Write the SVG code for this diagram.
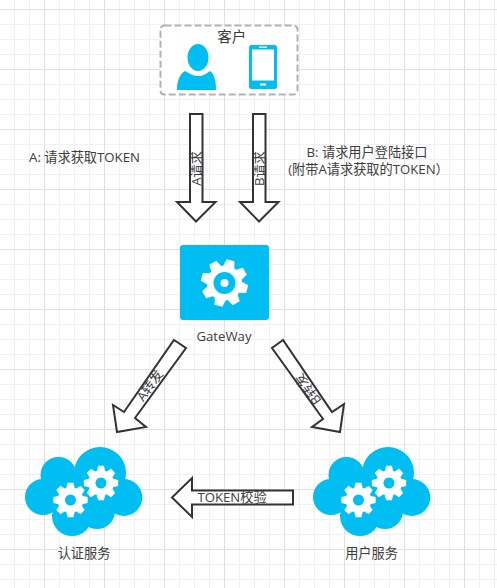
<svg xmlns="http://www.w3.org/2000/svg" width="497" height="588" viewBox="0 0 497 588">
<style>
text{font-family:"Open Sans","Noto Sans CJK SC",sans-serif;font-size:13.2px;fill:#3c3c3c;text-anchor:middle}
.ar{fill:#fff;stroke:#333;stroke-width:2}
.blue{fill:#00bef2}
</style>
<defs>
<pattern id="g1" width="15" height="15" patternUnits="userSpaceOnUse" x="14" y="9"><path d="M15 .5H.5V15" fill="none" stroke="#f0f0f0" stroke-width="1"/></pattern>
<pattern id="g2" width="60" height="60" patternUnits="userSpaceOnUse" x="44" y="9"><path d="M60 .5H.5V60" fill="none" stroke="#e0e0e0" stroke-width="1"/></pattern>
<path id="tooth" d="M-6-15L-4-23.500H4L6-15Z" fill="#fff"/>
<g id="gear"><circle r="17.500" fill="#fff"/>
<use href="#tooth"/><use href="#tooth" transform="rotate(45)"/><use href="#tooth" transform="rotate(90)"/><use href="#tooth" transform="rotate(135)"/><use href="#tooth" transform="rotate(180)"/><use href="#tooth" transform="rotate(225)"/><use href="#tooth" transform="rotate(270)"/><use href="#tooth" transform="rotate(315)"/></g>
<g id="cloud" class="blue"><circle cx="43" cy="497" r="18"/><circle cx="58.500" cy="475" r="18"/><circle cx="100" cy="473" r="26"/><circle cx="123.800" cy="497.500" r="18.500"/><circle cx="72" cy="516" r="20"/><circle cx="97" cy="511" r="18"/><ellipse cx="82" cy="495" rx="35" ry="20"/></g>
</defs>
<rect width="497" height="588" fill="#fff"/>
<rect width="497" height="588" fill="url(#g1)"/>
<rect width="497" height="588" fill="url(#g2)"/>
<g id="connectors">
<path class="ar" d="M190 114H202.500V202H215.500L196 221.500L177 202H190Z"/>
<path class="ar" d="M253 114H265.500V202H278.500L259 221.500L240 202H253Z"/>
<path class="ar" d="M174 340L186 348L135 418L146 427L117 432L113 405L124 412Z"/>
<path class="ar" d="M283 340L272 348L323 419L312 427L340 432L344 404L332 412Z"/>
<path class="ar" d="M293 490.500H192V478L172 497.500L192 517V504.500H293Z"/>
<text transform="translate(201,168.500) rotate(-90)">A请求</text>
<text transform="translate(264,168.500) rotate(-90)">B请求</text>
<text transform="translate(150,385.500) rotate(-54)" dy="4.500">A转发</text>
<text transform="translate(308,389) rotate(-126)" dy="4.500">B转发</text>
<text x="232" y="501.500">TOKEN校验</text>
</g>
<g id="client">
<rect x="160.500" y="25.500" width="137" height="69" rx="4" fill="#fff" stroke="#b3b3b3" stroke-width="2" stroke-dasharray="7 3"/>
<text x="231.700" y="41.500" style="font-size:14.500px">客户</text>
<ellipse class="blue" cx="198" cy="57.500" rx="10.500" ry="13.500"/>
<path class="blue" d="M177 90C177 80 180 74 185 71C190 74 194 76 198 76C203 76 206 74 210 71C214 74 216 80 216 90Z"/>
<rect class="blue" x="249" y="45" width="28" height="44" rx="2.500"/>
<rect x="252" y="49.500" width="22" height="31" fill="#fff"/>
<rect x="259" y="46.500" width="8" height="1.200" fill="#fff"/>
<rect x="260" y="83.500" width="6" height="2" fill="#fff"/>
</g>
<g id="gateway">
<rect class="blue" x="180" y="245" width="89" height="75" rx="3"/>
<use href="#gear" transform="translate(224.500,283) rotate(15)"/>
<circle class="blue" cx="224.500" cy="283" r="11"/>
<circle cx="224.500" cy="283" r="4" fill="#fff"/>
<text x="224" y="341">GateWay</text>
</g>
<g id="auth">
<use href="#cloud"/>
<use href="#gear" transform="translate(70.500,500) scale(.73)"/>
<circle class="blue" cx="70.500" cy="500" r="5.500"/>
<use href="#gear" transform="translate(101,483) scale(.73)"/>
<circle class="blue" cx="101" cy="483" r="5.500"/>
<text x="84" y="557.500">认证服务</text>
</g>
<g id="user">
<use href="#cloud" x="288"/>
<use href="#gear" transform="translate(358.500,500) scale(.73)"/>
<circle class="blue" cx="358.500" cy="500" r="5.500"/>
<use href="#gear" transform="translate(389,483) scale(.73)"/>
<circle class="blue" cx="389" cy="483" r="5.500"/>
<text x="371.500" y="557.500">用户服务</text>
</g>
<text id="noteA" x="84.500" y="162">A: 请求获取TOKEN</text>
<g id="noteB"><text x="367" y="157">B: 请求用户登陆接口</text><text x="368.500" y="174">(附带A请求获取的TOKEN）</text></g>
</svg>
